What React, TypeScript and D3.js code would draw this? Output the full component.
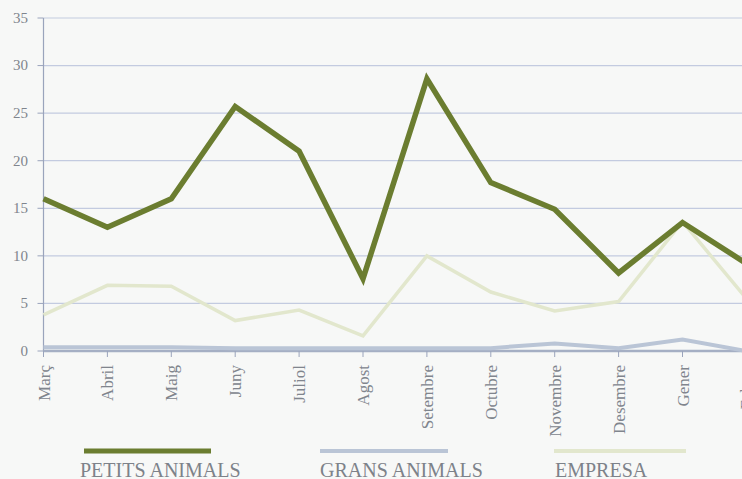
import React, { useEffect, useRef } from "react";
import * as d3 from "d3";

const categories = ["Març", "Abril", "Maig", "Juny", "Juliol", "Agost", "Setembre", "Octubre", "Novembre", "Desembre", "Gener", "Febrer"];
const petitsAnimals = [16, 13, 16, 25.7, 21, 7.6, 28.6, 17.7, 14.9, 8.2, 13.5, 9.2];
const gransAnimals = [0.4, 0.4, 0.4, 0.3, 0.3, 0.3, 0.3, 0.3, 0.8, 0.3, 1.2, 0];
const empresa = [3.8, 6.9, 6.8, 3.2, 4.3, 1.6, 10, 6.2, 4.2, 5.2, 13.6, 5.5];
const yTicks = [0, 5, 10, 15, 20, 25, 30, 35];
const seriesNames = ["PETITS ANIMALS", "GRANS ANIMALS", "EMPRESA"];

export default function App() {
  const ref = useRef<SVGSVGElement>(null);
  useEffect(() => {
    const svg = d3.select(ref.current);
    svg.selectAll("*").remove();
    const W = 742, H = 479;
    const left = 43.5, top = 18, bottom = 351;
    const x = d3.scalePoint<string>().domain(categories).range([left, 746.4]);
    const y = d3.scaleLinear().domain([0, 35]).range([bottom, top]);
    const font = "'Liberation Serif', 'Times New Roman', serif";
    const textColor = "#80858d";

    svg.append("rect").attr("width", W).attr("height", H).attr("fill", "#f7f8f7");

    // gridlines
    svg.append("g").selectAll("line").data(yTicks.filter(t => t > 0)).join("line")
      .attr("x1", left).attr("x2", W).attr("y1", d => y(d)).attr("y2", d => y(d))
      .attr("stroke", "#c3cbe0").attr("stroke-width", 1.2);

    // y axis
    svg.append("line").attr("x1", left).attr("x2", left).attr("y1", top).attr("y2", bottom)
      .attr("stroke", "#9aa4bc").attr("stroke-width", 1.2);
    svg.append("g").selectAll("line").data(yTicks).join("line")
      .attr("x1", left - 6).attr("x2", left).attr("y1", d => y(d)).attr("y2", d => y(d))
      .attr("stroke", "#9aa4bc").attr("stroke-width", 1);
    svg.append("g").selectAll("text").data(yTicks).join("text")
      .attr("x", 28).attr("y", d => y(d)).attr("dy", "0.32em")
      .attr("text-anchor", "end").attr("font-family", font).attr("font-size", 15)
      .attr("fill", textColor).text(d => String(d));

    // x axis
    svg.append("line").attr("x1", left).attr("x2", W).attr("y1", bottom).attr("y2", bottom)
      .attr("stroke", "#a5afc4").attr("stroke-width", 2.5);
    svg.append("g").selectAll("line").data(categories).join("line")
      .attr("x1", d => x(d)!).attr("x2", d => x(d)!).attr("y1", bottom).attr("y2", bottom + 6)
      .attr("stroke", "#9aa4bc").attr("stroke-width", 1);
    svg.append("g").selectAll("text").data(categories).join("text")
      .attr("transform", d => `translate(${x(d)! + 6},${bottom + 14}) rotate(-90)`)
      .attr("text-anchor", "end").attr("font-family", font).attr("font-size", 17)
      .attr("fill", textColor).text(d => d);

    const line = d3.line<number>().x((_, i) => x(categories[i])!).y(d => y(d));
    const series = [
      { data: empresa, color: "#e2e7cd", w: 3.5 },
      { data: gransAnimals, color: "#bac5d6", w: 4 },
      { data: petitsAnimals, color: "#6b7d30", w: 5.5 },
    ];
    series.forEach(s => {
      svg.append("path").attr("d", line(s.data)!).attr("fill", "none")
        .attr("stroke", s.color).attr("stroke-width", s.w).attr("stroke-linejoin", "miter");
    });

    // legend
    const legend = [
      { name: seriesNames[0], color: "#6b7d30", w: 5, x1: 84, x2: 211, tx: 80 },
      { name: seriesNames[1], color: "#bac5d6", w: 4, x1: 320, x2: 448, tx: 320 },
      { name: seriesNames[2], color: "#e2e7cd", w: 4, x1: 554, x2: 686, tx: 555 },
    ];
    legend.forEach(l => {
      svg.append("line").attr("x1", l.x1).attr("x2", l.x2).attr("y1", 451).attr("y2", 451)
        .attr("stroke", l.color).attr("stroke-width", l.w);
      svg.append("text").attr("x", l.tx).attr("y", 477).attr("font-family", font)
        .attr("font-size", 20).attr("fill", "#7d8289").text(l.name);
    });
  }, []);
  return (
    <svg ref={ref} width={742} height={479} style={{ position: "absolute", left: 0, top: 0 }} />
  );
}
